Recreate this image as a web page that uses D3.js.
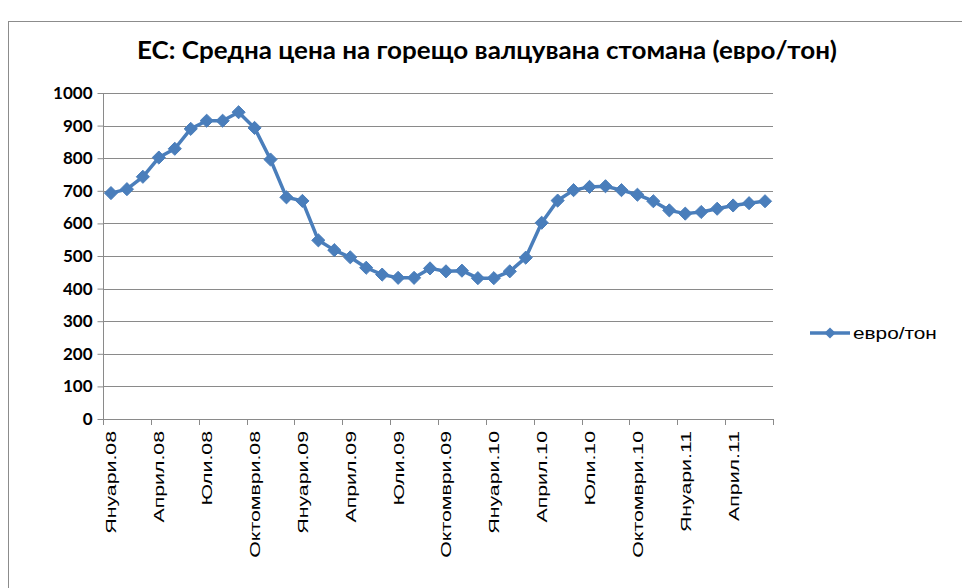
<!DOCTYPE html>
<html><head><meta charset="utf-8">
<script src="https://cdn.jsdelivr.net/npm/d3@7"></script>
<style>body{margin:0;background:#fff}</style>
</head><body>
<svg id="c" width="962" height="588"></svg>
<script>
const title = "ЕС: Средна цена на горещо валцувана стомана (евро/тон)";
const seriesName = "евро/тон";
const monthNames = ["Януари","Февруари","Март","Април","Май","Юни","Юли","Август","Септември","Октомври","Ноември","Декември"];
const years = ["08","09","10","11"];
const values = [693,705,743,802,829,890,915,915,941,893,796,680,669,548,518,496,464,443,433,433,462,453,455,432,432,453,495,602,670,702,712,714,702,688,668,640,630,635,645,655,662,668];
const yTicks = [0,100,200,300,400,500,600,700,800,900,1000];

const categories = values.map((v,i)=> monthNames[i%12] + "." + years[Math.floor(i/12)]);

const svg = d3.select("#c");
const L=103, R=773, T=93, B=419;

svg.append("rect").attr("x",8.5).attr("y",21.5).attr("width",1200).attr("height",1200)
  .attr("fill","none").attr("stroke","#8c8c8c").attr("stroke-width",1);

svg.append("text").attr("x",487).attr("y",59).attr("text-anchor","middle")
  .attr("font-family","Lato, 'Open Sans', sans-serif").attr("font-weight","bold")
  .attr("font-size",25).attr("textLength",700).attr("lengthAdjust","spacingAndGlyphs")
  .attr("fill","#000").text(title);

const x = d3.scaleBand().domain(categories).range([L,R]).padding(0);
const y = d3.scaleLinear().domain([0,1000]).range([B,T]);

// gridlines
svg.append("g").selectAll("line").data(yTicks.filter(d=>d>0)).join("line")
  .attr("x1",L).attr("x2",R).attr("y1",d=>Math.round(y(d))+0.5).attr("y2",d=>Math.round(y(d))+0.5)
  .attr("stroke","#8a8a8a").attr("stroke-width",1);

// y axis
const yAxis = d3.axisLeft(y).tickValues(yTicks).tickSize(6).tickPadding(5).tickFormat(d3.format("d"));
const gy = svg.append("g").attr("transform",`translate(${L+0.5},0)`).call(yAxis);
gy.selectAll("path,line").attr("stroke","#8a8a8a");
gy.select(".domain").attr("d",`M0,${T}V${B}`);
gy.selectAll("text").attr("font-family","Lato, 'Open Sans', sans-serif").attr("font-weight","bold")
  .attr("font-size",17).attr("fill","#000");

// x axis line
svg.append("line").attr("x1",L).attr("x2",R).attr("y1",B+0.5).attr("y2",B+0.5).attr("stroke","#8a8a8a");
// ticks at every 3 category boundaries
const tickIdx = d3.range(0, categories.length+1, 3);
const edge = i => i<categories.length ? x(categories[i]) : x(categories[i-1])+x.bandwidth();
svg.append("g").selectAll("line").data(tickIdx).join("line")
  .attr("x1",i=> Math.round(edge(i))+0.5).attr("x2",i=> Math.round(edge(i))+0.5)
  .attr("y1",B).attr("y2",B+6).attr("stroke","#8a8a8a");

// x labels
const labelIdx = d3.range(0, categories.length, 3);
svg.append("g").selectAll("text").data(labelIdx).join("text")
  .attr("transform",i=>`translate(${x(categories[i])+x.bandwidth()/2+5.5},${B+12}) rotate(-90) scale(1.42,1)`)
  .attr("text-anchor","end")
  .attr("font-family","'Liberation Sans', Arial, sans-serif").attr("font-size",15).attr("fill","#000")
  .text(i=>categories[i]);

const color = "#4a7ebb";
const cx = (d,i)=> x(categories[i]) + x.bandwidth()/2;
const line = d3.line().x(cx).y(d=>y(d));
svg.append("path").datum(values).attr("d",line).attr("fill","none")
  .attr("stroke",color).attr("stroke-width",3.5).attr("stroke-linejoin","round");

const diamond = d3.symbol().type(d3.symbolDiamond2).size(110);
svg.append("g").selectAll("path").data(values).join("path")
  .attr("transform",(d,i)=>`translate(${cx(d,i)},${y(d)})`)
  .attr("d",diamond).attr("fill",color).attr("stroke",color).attr("stroke-width",1);

// legend
const lg = svg.append("g").attr("transform","translate(810,333)");
lg.append("line").attr("x1",0).attr("x2",40).attr("y1",0).attr("y2",0).attr("stroke",color).attr("stroke-width",3.5);
lg.append("path").attr("transform","translate(20,0)").attr("d",d3.symbol().type(d3.symbolDiamond2).size(80)).attr("fill",color);
lg.append("text").attr("transform","translate(43,6) scale(1.3,1)").attr("font-family","'Liberation Sans', Arial, sans-serif")
  .attr("font-size",16).attr("fill","#000").text(seriesName);
</script>
</body></html>
